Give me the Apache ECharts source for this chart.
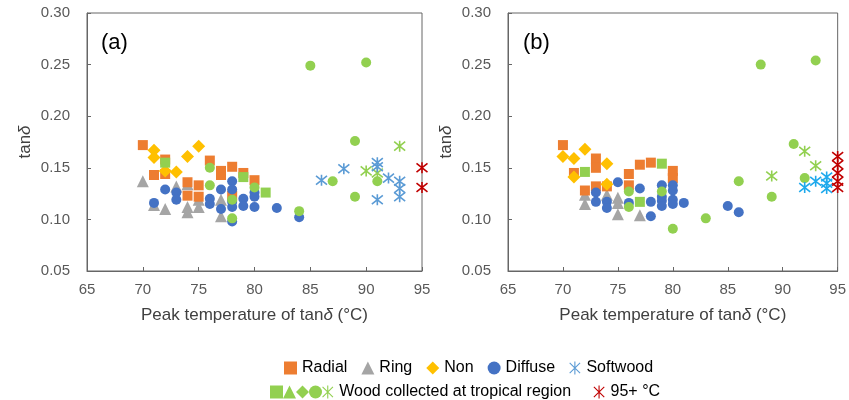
<!DOCTYPE html>
<html>
<head>
<meta charset="utf-8">
<script src="https://cdn.jsdelivr.net/npm/echarts@6/dist/echarts.min.js"></script>
<style>
  html, body { margin: 0; padding: 0; background: #fff; }
  #chart { width: 849px; height: 400px; }
</style>
</head>
<body>
<div id="chart"></div>
<script>
// panel (a)
const radialA = [[70, 0.172], [71, 0.143], [72, 0.158], [72, 0.144], [74, 0.136], [74, 0.123], [75, 0.133], [75, 0.122],
  [76, 0.157], [77, 0.147], [77, 0.143], [78, 0.151], [78, 0.123], [79, 0.145], [80, 0.138]]
const ringA = [[70, 0.137], [71, 0.114], [72, 0.110], [73, 0.132], [74, 0.134], [74, 0.112], [74, 0.107],
  [75, 0.119], [75, 0.112], [77, 0.119], [77, 0.103]]
const nonA = [[71, 0.167], [71, 0.160], [72, 0.147], [73, 0.146], [74, 0.161], [75, 0.171]]
const diffuseA = [[71, 0.116], [72, 0.129], [73, 0.126], [73, 0.119], [76, 0.120], [76, 0.115], [77, 0.129], [77, 0.110],
  [78, 0.137], [78, 0.129], [78, 0.117], [78, 0.112], [78, 0.098], [79, 0.120], [79, 0.113], [80, 0.126],
  [80, 0.122], [80, 0.112], [82, 0.111], [84, 0.102]]
const tropSqA = [[72, 0.155], [79, 0.141], [81, 0.126]]
const tropCircA = [[76, 0.150], [76, 0.133], [78, 0.119], [78, 0.101], [80, 0.131], [84, 0.108], [85, 0.249],
  [90, 0.252], [89, 0.176], [87, 0.137], [91, 0.137], [89, 0.122]]
const tropStarA = [[93, 0.171], [90, 0.147], [91, 0.145]]
const softA = [[86, 0.138], [88, 0.149], [91, 0.155], [91, 0.151], [92, 0.140], [93, 0.137], [93, 0.130], [93, 0.122], [91, 0.119]]
const hotA = [[95, 0.150], [95, 0.131]]

// panel (b)
const radialB = [[70, 0.172], [71, 0.145], [72, 0.128], [73, 0.159], [73, 0.150], [73, 0.132], [74, 0.132],
  [76, 0.144], [76, 0.133], [77, 0.153], [78, 0.155], [80, 0.147], [80, 0.140]]
const ringB = [[72, 0.124], [72, 0.115], [74, 0.124], [75, 0.121], [75, 0.116], [75, 0.105], [77, 0.104]]
const nonB = [[70, 0.161], [71, 0.159], [72, 0.168], [71, 0.141], [74, 0.154], [74, 0.134]]
const diffuseB = [[73, 0.126], [73, 0.117], [74, 0.117], [74, 0.111], [75, 0.136], [76, 0.116], [77, 0.130], [78, 0.117],
  [78, 0.103], [79, 0.133], [79, 0.122], [79, 0.118], [79, 0.113], [80, 0.133], [80, 0.128], [80, 0.119],
  [80, 0.115], [81, 0.116], [85, 0.113], [86, 0.107]]
const tropSqB = [[72, 0.146], [77, 0.117], [79, 0.154]]
const tropCircB = [[76, 0.127], [76, 0.112], [79, 0.127], [80, 0.091], [83, 0.101], [86, 0.137], [88, 0.250],
  [93, 0.254], [91, 0.173], [92, 0.140], [89, 0.122]]
const tropStarB = [[92, 0.166], [93, 0.152], [89, 0.142]]
const softB = [[92, 0.131], [93, 0.137], [94, 0.141], [94, 0.135], [94, 0.130]]
const hotB = [[95, 0.161], [95, 0.153], [95, 0.145], [95, 0.137], [95, 0.131]]

const xTicks = [65, 70, 75, 80, 85, 90, 95]
const yTicks = [0.05, 0.10, 0.15, 0.20, 0.25, 0.30]

const STAR = 'path://M1,1L9,9M9,1L1,9M5,0L5,10'
const FONT = 'Liberation Sans, Arial, sans-serif'
const TROP = '#92D050'

const panels = [
  { radial: radialA, ring: ringA, non: nonA, diffuse: diffuseA, tropSq: tropSqA, tropCirc: tropCircA,
    tropStar: tropStarA, soft: softA, hot: hotA, softColor: '#5B9BD5' },
  { radial: radialB, ring: ringB, non: nonB, diffuse: diffuseB, tropSq: tropSqB, tropCirc: tropCircB,
    tropStar: tropStarB, soft: softB, hot: hotB, softColor: '#1EA9EC' }
]

function dot(name, i, data, symbol, size, color) {
  return {
    name: name,
    type: 'scatter',
    xAxisIndex: i,
    yAxisIndex: i,
    data: data,
    symbol: symbol,
    symbolSize: size,
    clip: false,
    itemStyle: { color: color, opacity: 1 }
  }
}

function star(name, i, data, color) {
  return {
    name: name,
    type: 'scatter',
    xAxisIndex: i,
    yAxisIndex: i,
    data: data,
    symbol: STAR,
    symbolSize: 11,
    clip: false,
    itemStyle: { color: color, borderColor: color, borderWidth: 1.6, opacity: 1 }
  }
}

const series = []
panels.forEach(function(p, i) {
  series.push(dot('Ring', i, p.ring, 'triangle', 12, '#A5A5A5'))
  series.push(dot('Radial', i, p.radial, 'rect', 10, '#ED7D31'))
  series.push(dot('Non', i, p.non, 'diamond', 13, '#FFC000'))
  series.push(dot('Diffuse', i, p.diffuse, 'circle', 10, '#4472C4'))
  series.push(dot('tropSq', i, p.tropSq, 'rect', 10, TROP))
  series.push(dot('tropTri', i, [], 'triangle', 12, TROP))
  series.push(dot('tropDia', i, [], 'diamond', 13, TROP))
  series.push(dot('tropCirc', i, p.tropCirc, 'circle', 10, TROP))
  series.push(star('Wood collected at tropical region', i, p.tropStar, TROP))
  series.push(star('Softwood', i, p.soft, p.softColor))
  series.push(star('95+ °C', i, p.hot, '#C00000'))
})

const axisColor = '#666'
const labelColor = '#595959'

function xAxis(i) {
  return {
    type: 'value',
    gridIndex: i,
    min: xTicks[0],
    max: xTicks[xTicks.length - 1],
    interval: 5,
    name: 'Peak temperature of tan{i|δ} (°C)',
    nameLocation: 'middle',
    nameGap: 36,
    nameTextStyle: {
      fontFamily: FONT, fontSize: 17, color: '#404040',
      rich: { i: { fontFamily: FONT, fontSize: 17, fontStyle: 'italic', color: '#404040' } }
    },
    axisLine: { lineStyle: { color: axisColor } },
    axisTick: { inside: true, length: 4, lineStyle: { color: axisColor } },
    axisLabel: { fontFamily: FONT, fontSize: 15, color: labelColor, margin: 11 },
    splitLine: { show: false }
  }
}

function yAxis(i) {
  return {
    type: 'value',
    gridIndex: i,
    min: yTicks[0],
    max: yTicks[yTicks.length - 1],
    interval: 0.05,
    name: 'tan{i|δ}',
    nameLocation: 'middle',
    nameGap: 53,
    nameRotate: 90,
    nameTextStyle: {
      fontFamily: FONT, fontSize: 17, color: '#404040',
      rich: { i: { fontFamily: FONT, fontSize: 17, fontStyle: 'italic', color: '#404040' } }
    },
    axisLine: { show: true, lineStyle: { color: axisColor } },
    axisTick: { show: true, inside: true, length: 4, lineStyle: { color: axisColor } },
    axisLabel: {
      fontFamily: FONT, fontSize: 15, color: labelColor, margin: 17,
      formatter: function(v) { return v.toFixed(2) }
    },
    splitLine: { show: false }
  }
}

const tropNames = { tropSq: '', tropTri: '', tropDia: '', tropCirc: '' }

const chart = echarts.init(document.getElementById('chart'), null, { renderer: 'canvas' })
chart.setOption({
  animation: false,
  backgroundColor: '#fff',
  grid: [
    { left: 87, top: 13, width: 335, height: 258, show: true, borderColor: axisColor, borderWidth: 1 },
    { left: 508, top: 13, width: 335, height: 258, show: true, borderColor: axisColor, borderWidth: 1 }
  ],
  xAxis: [xAxis(0), xAxis(1)],
  yAxis: [yAxis(0), yAxis(1)],
  graphic: [
    { type: 'text', left: 101, top: 32, style: { text: '(a)', font: '22px ' + FONT, fill: '#000' } },
    { type: 'text', left: 523, top: 32, style: { text: '(b)', font: '22px ' + FONT, fill: '#000' } }
  ],
  legend: [
    {
      left: 279,
      top: 355,
      itemWidth: 13,
      itemHeight: 13,
      itemGap: 14,
      selectedMode: false,
      textStyle: { fontFamily: FONT, fontSize: 16, color: '#000' },
      data: ['Radial', 'Ring', 'Non', 'Diffuse', { name: 'Softwood', itemStyle: { borderWidth: 1.1 } }]
    },
    {
      left: 265,
      top: 379,
      itemWidth: 13,
      itemHeight: 13,
      itemGap: 0,
      selectedMode: false,
      textStyle: { fontFamily: FONT, fontSize: 16, color: '#000' },
      formatter: function(name) {
        if (name in tropNames) return tropNames[name]
        if (name === '95+ °C') return name
        return name + '     '
      },
      data: ['tropSq', 'tropTri', 'tropDia', 'tropCirc',
        { name: 'Wood collected at tropical region', itemStyle: { borderWidth: 1.1 } },
        { name: '95+ °C', itemStyle: { borderWidth: 1.1 } }]
    }
  ],
  series: series
})
</script>
</body>
</html>
